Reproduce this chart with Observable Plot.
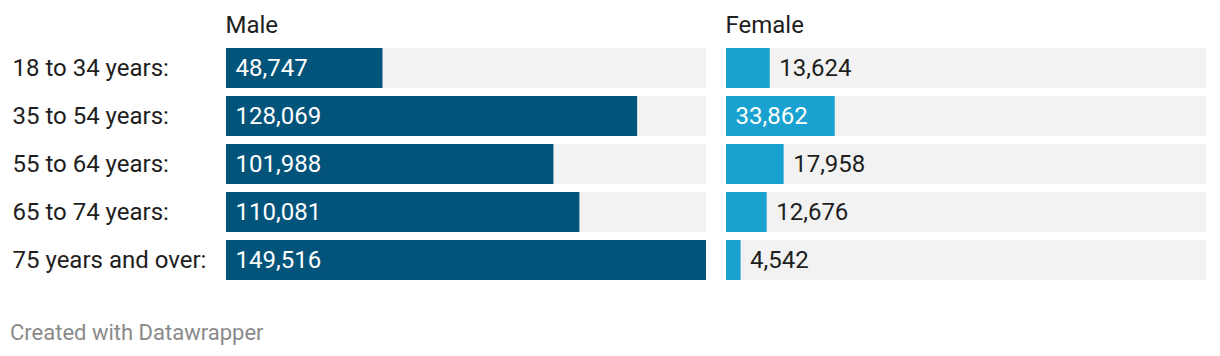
<!DOCTYPE html>
<html>
<head>
<meta charset="utf-8">
<script src="https://cdn.jsdelivr.net/npm/d3@7"></script>
<script src="https://cdn.jsdelivr.net/npm/@observablehq/plot@0.6"></script>
<style>
  html, body { margin: 0; padding: 0; background: #fff; }
  #wrap { position: relative; width: 1220px; height: 356px; font-family: Roboto, "Noto Sans", sans-serif; }
  #chart { position: absolute; left: 0; top: 0; }
  #footer { position: absolute; left: 10px; top: 321px; font-size: 22px; line-height: 24px; color: #8a8a8a; }
</style>
</head>
<body>
<div id="wrap">
  <div id="chart"></div>
  <div id="footer">Created with Datawrapper</div>
</div>
<script>
const ages = ["18 to 34 years:", "35 to 54 years:", "55 to 64 years:", "65 to 74 years:", "75 years and over:"];
const sexes = ["Male", "Female"];
const male = [48747, 128069, 101988, 110081, 149516];
const female = [13624, 33862, 17958, 12676, 4542];

const data = ages.flatMap((a, i) => [
  {age: a, sex: "Male", value: male[i]},
  {age: a, sex: "Female", value: female[i]}
]);
const xMax = d3.max(data, d => d.value);
const facetWidth = 480;
const fmt = d3.format(",");
const inside = d => d.value / xMax * facetWidth > 90;

const chart = Plot.plot({
  width: 1220,
  height: 290,
  marginLeft: 226,
  marginRight: 14,
  marginTop: 48,
  marginBottom: 10,
  style: {fontFamily: "Roboto, 'Noto Sans', sans-serif", fontSize: "24px", background: "transparent"},
  fx: {domain: sexes, paddingInner: 0.04, paddingOuter: 0, axis: null},
  x: {domain: [0, xMax], axis: null},
  y: {domain: ages, paddingInner: 1 / 6, paddingOuter: 0, axis: null},
  color: {domain: sexes, range: ["#02547b", "#19a2cf"]},
  marks: [
    Plot.barX(data, {fx: "sex", y: "age", x1: 0, x2: xMax, fill: "#f2f2f2"}),
    Plot.barX(data, {fx: "sex", y: "age", x: "value", fill: "sex"}),
    Plot.text(data.filter(inside), {
      fx: "sex", y: "age", x: 0, text: d => fmt(d.value),
      textAnchor: "start", dx: 9, fill: "white", fontSize: 24
    }),
    Plot.text(data.filter(d => !inside(d)), {
      fx: "sex", y: "age", x: "value", text: d => fmt(d.value),
      textAnchor: "start", dx: 9, fill: "#1e1e1e", fontSize: 24
    }),
    Plot.text(ages.map(a => ({age: a, sex: "Male"})), {
      fx: "sex", y: "age", text: "age", frameAnchor: "left",
      textAnchor: "start", dx: -214, fill: "#1e1e1e", fontSize: 24
    }),
    Plot.text(sexes.map(s => ({sex: s})), {
      fx: "sex", text: "sex", frameAnchor: "top-left",
      textAnchor: "start", lineAnchor: "bottom", dy: -16, dx: -1, fill: "#1e1e1e", fontSize: 24
    })
  ]
});
document.getElementById("chart").appendChild(chart);
</script>
</body>
</html>
